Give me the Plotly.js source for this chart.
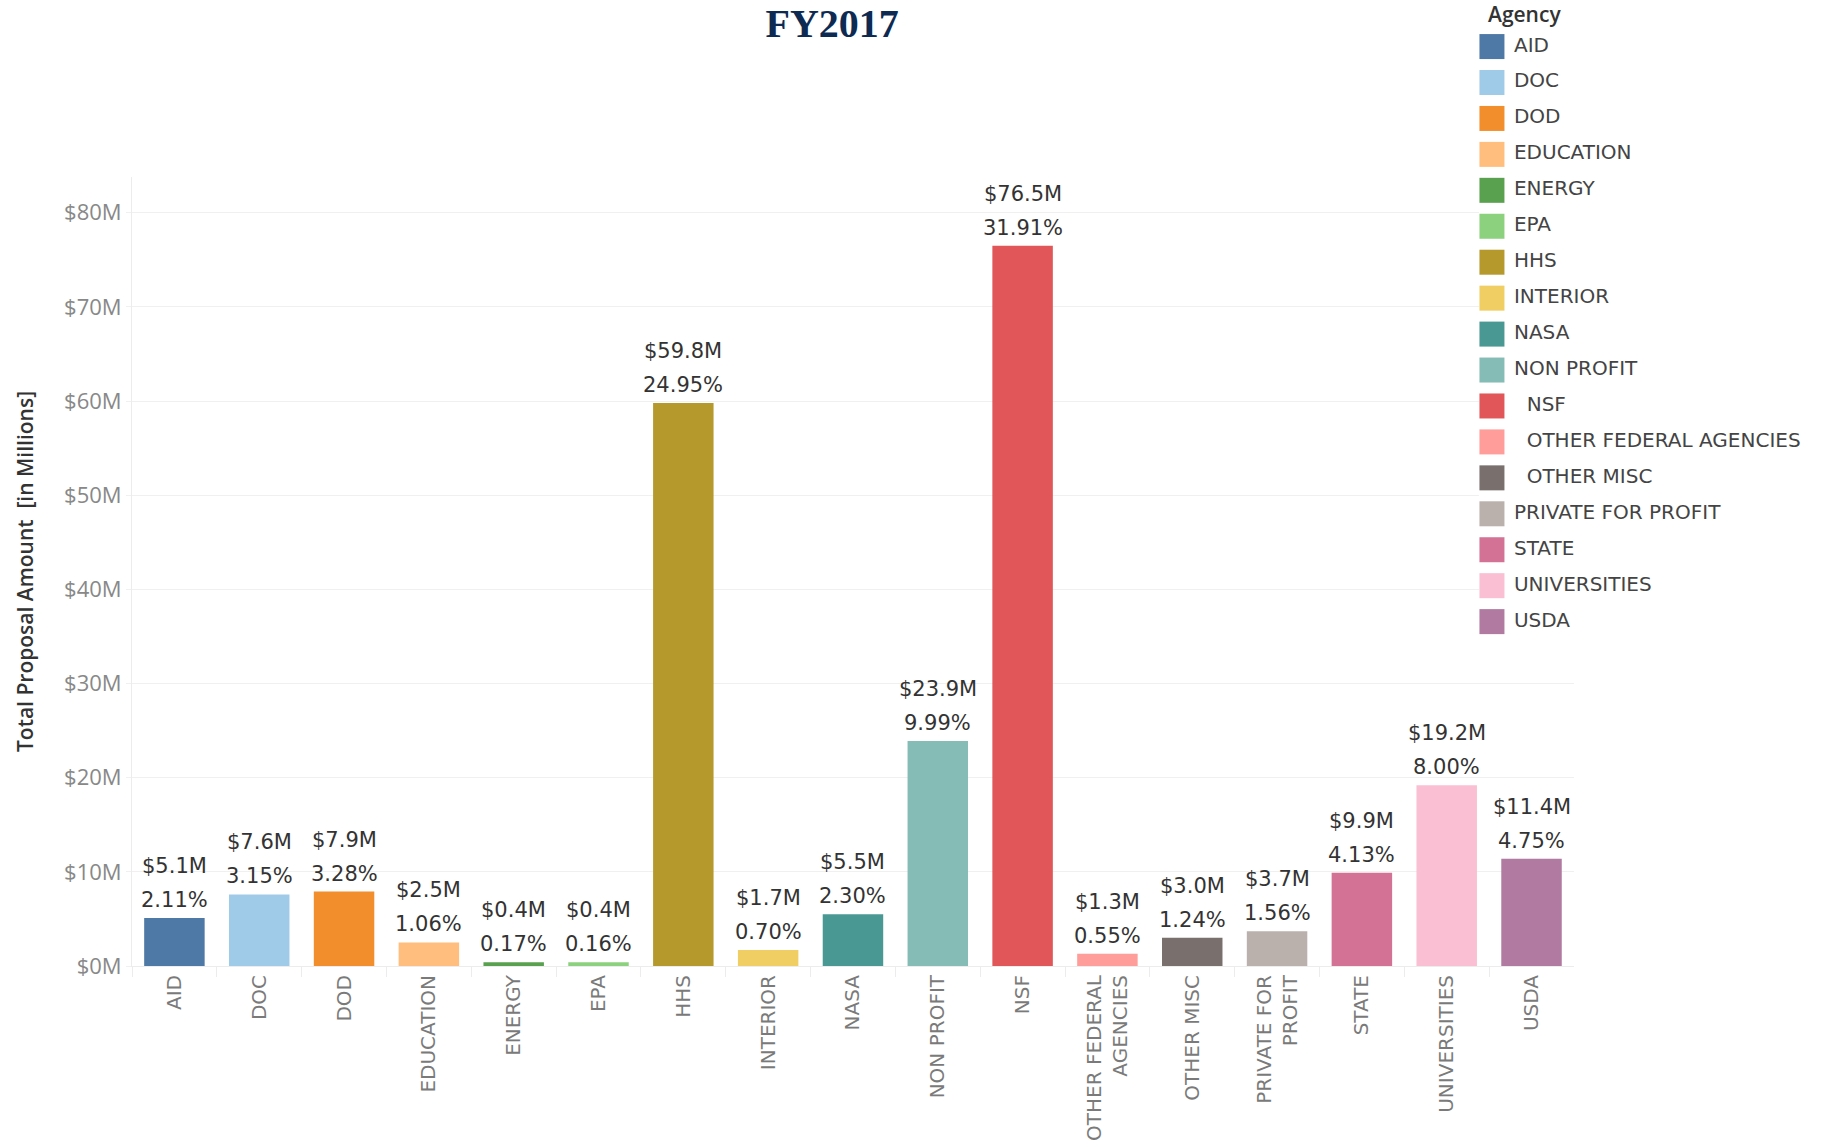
<!DOCTYPE html>
<html><head><meta charset="utf-8">
<script src="https://cdn.plot.ly/plotly-3.0.1.min.js"></script>
<style>html,body{margin:0;padding:0;background:#fff}#chart{width:1825px;height:1147px}</style>
</head><body><div id="chart"></div>
<script>
const agencies = ["AID","DOC","DOD","EDUCATION","ENERGY","EPA","HHS","INTERIOR","NASA","NON PROFIT","NSF","OTHER FEDERAL AGENCIES","OTHER MISC","PRIVATE FOR PROFIT","STATE","UNIVERSITIES","USDA"];
const tickLabels = ["AID","DOC","DOD","EDUCATION","ENERGY","EPA","HHS","INTERIOR","NASA","NON PROFIT","NSF","OTHER FEDERAL<br>AGENCIES","OTHER MISC","PRIVATE FOR<br>PROFIT","STATE","UNIVERSITIES","USDA"];
const legendLabels = ["AID","DOC","DOD","EDUCATION","ENERGY","EPA","HHS","INTERIOR","NASA","NON PROFIT","\u00a0\u00a0NSF","\u00a0\u00a0OTHER FEDERAL AGENCIES","\u00a0\u00a0OTHER MISC","PRIVATE FOR PROFIT","STATE","UNIVERSITIES","USDA"];
const amounts = [5.1,7.6,7.9,2.5,0.4,0.4,59.8,1.7,5.5,23.9,76.5,1.3,3.0,3.7,9.9,19.2,11.4];
const amountLabels = ["$5.1M","$7.6M","$7.9M","$2.5M","$0.4M","$0.4M","$59.8M","$1.7M","$5.5M","$23.9M","$76.5M","$1.3M","$3.0M","$3.7M","$9.9M","$19.2M","$11.4M"];
const percentLabels = ["2.11%","3.15%","3.28%","1.06%","0.17%","0.16%","24.95%","0.70%","2.30%","9.99%","31.91%","0.55%","1.24%","1.56%","4.13%","8.00%","4.75%"];
const colors = ["#4e79a7","#a0cbe8","#f28e2b","#ffbe7d","#59a14f","#8cd17d","#b6992d","#f1ce63","#499894","#86bcb6","#e15759","#ff9d9a","#79706e","#bab0ac","#d37295","#fabfd2","#b07aa1"];
const yTicks = [0,10,20,30,40,50,60,70,80];
const yTickLabels = ["$0M","$10M","$20M","$30M","$40M","$50M","$60M","$70M","$80M"];

const bars = {
  type:'bar', x:agencies, y:amounts, marker:{color:colors}, showlegend:false,
  hoverinfo:'none', xaxis:'x', yaxis:'y'
};
const legendSwatches = {
  type:'scatter', mode:'markers', x:agencies.map(()=>0), y:agencies,
  marker:{symbol:'square', size:25, color:colors, line:{width:0}},
  xaxis:'x2', yaxis:'y2', showlegend:false, hoverinfo:'none', cliponaxis:false
};
const legendText = {
  type:'scatter', mode:'text', x:agencies.map(()=>1), y:agencies, text:legendLabels,
  textposition:'middle right', textfont:{family:'DejaVu Sans', size:20, color:'#444'},
  xaxis:'x2', yaxis:'y2', showlegend:false, hoverinfo:'none', cliponaxis:false
};

const annotations = [];
agencies.forEach((a,i)=>{
  annotations.push({xref:'x', yref:'y', x:a, y:amounts[i], text:percentLabels[i], showarrow:false,
    yanchor:'middle', yshift:18, font:{family:'DejaVu Sans', size:21, color:'#333'}});
  annotations.push({xref:'x', yref:'y', x:a, y:amounts[i], text:amountLabels[i], showarrow:false,
    yanchor:'middle', yshift:52, font:{family:'DejaVu Sans', size:21, color:'#333'}});
});
annotations.push({xref:'paper', yref:'paper', x:0.7998, y:0.9855, xanchor:'left', yanchor:'middle',
  text:'Agency', showarrow:false, font:{family:'Open Sans', size:21, color:'#333', weight:600}});

const layout = {
  width:1825, height:1147, paper_bgcolor:'#fff', plot_bgcolor:'#fff',
  margin:{l:132, r:0, t:0, b:181},
  title:{text:'<b>FY2017</b>', font:{family:'Liberation Serif', size:40, color:'#0d2b52'},
    x:0.456, xref:'container', xanchor:'center', y:0.98, yref:'container', yanchor:'middle'},
  bargap:0.287,
  hovermode:false,
  xaxis:{domain:[0,0.8517], type:'category', categoryarray:agencies, tickvals:agencies, ticktext:tickLabels,
    tickangle:-90, tickfont:{family:'DejaVu Sans', size:20, color:'#7a7a7a'},
    ticks:'outside', tickson:'boundaries', ticklen:10, tickcolor:'#ececec',
    showline:true, linecolor:'#ececec', showgrid:false, anchor:'y'},
  yaxis:{domain:[0,0.8168], range:[0,83.8], tickvals:yTicks, ticktext:yTickLabels,
    tickfont:{family:'Open Sans', size:22, color:'#888'},
    ticks:'outside', ticklen:5, tickcolor:'#f0f0f0',
    showgrid:true, gridcolor:'#f0f0f0', zeroline:false, showline:true, linecolor:'#ececec',
    title:{text:'Total Proposal Amount\u00a0\u00a0[in Millions]', standoff:24,
      font:{family:'Open Sans', size:21, color:'#333', weight:600}}, anchor:'x'},
  xaxis2:{domain:[0.7956,1], range:[-0.591,15.136], visible:false, anchor:'y2', fixedrange:true},
  yaxis2:{domain:[0.3379,0.9704], type:'category', categoryarray:agencies, range:[16.5,-0.5], visible:false, anchor:'x2', fixedrange:true},
  annotations:annotations,
  font:{family:'DejaVu Sans'}
};
Plotly.newPlot('chart',[bars,legendSwatches,legendText],layout,{displayModeBar:false, staticPlot:true});
</script></body></html>
